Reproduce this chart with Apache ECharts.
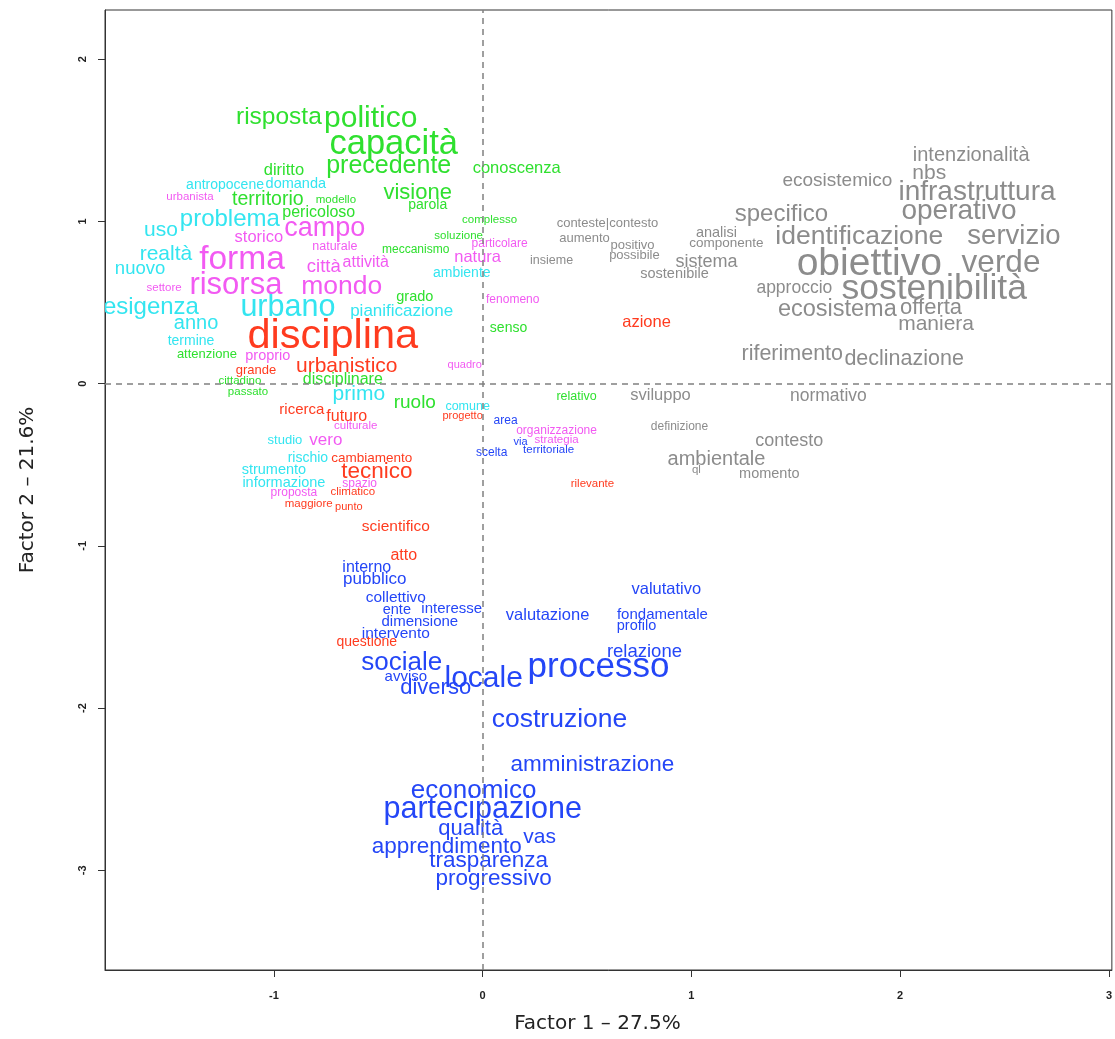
<!DOCTYPE html>
<html>
<head>
<meta charset="utf-8">
<script src="https://cdn.jsdelivr.net/npm/echarts@6/dist/echarts.min.js"></script>
<style>
html,body{margin:0;padding:0;background:#fff;}
#chart{width:1115px;height:1039px;}
</style>
</head>
<body>
<div id="chart"></div>
<script>
// Word map: [word, Factor 1 score, Factor 2 score, relative size (cex)]
const greenWords = [
  ['risposta',-0.976,1.651,2.45],['politico',-0.536,1.645,3.0],['capacità',-0.426,1.491,3.45],
  ['precedente',-0.450,1.349,2.5],['conoscenza',0.163,1.331,1.65],['diritto',-0.952,1.319,1.65],
  ['territorio',-1.029,1.140,1.95],['modello',-0.703,1.140,1.15],['visione',-0.311,1.183,2.2],
  ['parola',-0.263,1.109,1.4],['pericoloso',-0.785,1.060,1.6],['complesso',0.033,1.017,1.15],
  ['soluzione',-0.115,0.913,1.15],['meccanismo',-0.321,0.833,1.2],['grado',-0.325,0.538,1.45],
  ['senso',0.124,0.347,1.4],['attenzione',-1.321,0.187,1.3],['cittadino',-1.163,0.021,1.15],
  ['passato',-1.124,-0.047,1.15],['disciplinare',-0.670,0.033,1.6],['ruolo',-0.325,-0.108,1.9],
  ['relativo',0.450,-0.077,1.25]
];
const cyanWords = [
  ['antropocene',-1.234,1.232,1.4],['domanda',-0.895,1.239,1.45],['problema',-1.211,1.023,2.4],
  ['uso',-1.541,0.956,2.1],['realtà',-1.517,0.808,2.1],['nuovo',-1.641,0.716,1.85],
  ['esigenza',-1.589,0.482,2.4],['urbano',-0.933,0.482,3.05],['anno',-1.373,0.378,2.0],
  ['termine',-1.397,0.267,1.4],['pianificazione',-0.388,0.451,1.7],['ambiente',-0.100,0.685,1.4],
  ['primo',-0.593,-0.059,2.1],['comune',-0.072,-0.133,1.25],['studio',-0.947,-0.342,1.3],
  ['rischio',-0.837,-0.453,1.4],['strumento',-1.000,-0.526,1.45],['informazione',-0.952,-0.606,1.45]
];
const magentaWords = [
  ['urbanista',-1.402,1.159,1.15],['campo',-0.756,0.968,2.7],['storico',-1.072,0.907,1.65],
  ['forma',-1.153,0.778,3.35],['naturale',-0.708,0.851,1.25],['particolare',0.081,0.870,1.2],
  ['natura',-0.024,0.784,1.65],['città',-0.761,0.728,1.85],['attività',-0.560,0.753,1.6],
  ['risorsa',-1.182,0.617,3.1],['mondo',-0.675,0.611,2.65],['settore',-1.526,0.593,1.15],
  ['fenomeno',0.144,0.525,1.2],['proprio',-1.029,0.175,1.45],['quadro',-0.086,0.119,1.1],
  ['culturale',-0.608,-0.256,1.15],['vero',-0.751,-0.342,1.7],['organizzazione',0.354,-0.287,1.2],
  ['strategia',0.354,-0.342,1.15],['spazio',-0.589,-0.613,1.2],['proposta',-0.904,-0.668,1.2]
];
const redWords = [
  ['disciplina',-0.718,0.310,4.15],['azione',0.785,0.384,1.65],['urbanistico',-0.651,0.119,2.1],
  ['grande',-1.086,0.089,1.3],['ricerca',-0.866,-0.157,1.5],['futuro',-0.651,-0.194,1.6],
  ['progetto',-0.096,-0.194,1.1],['cambiamento',-0.531,-0.453,1.35],['tecnico',-0.507,-0.533,2.25],
  ['climatico',-0.622,-0.662,1.15],['maggiore',-0.833,-0.736,1.15],['punto',-0.641,-0.754,1.1],
  ['rilevante',0.526,-0.613,1.15],['scientifico',-0.416,-0.877,1.55],['atto',-0.378,-1.055,1.6],
  ['questione',-0.555,-1.590,1.4]
];
const blueWords = [
  ['area',0.110,-0.224,1.2],['via',0.182,-0.354,1.1],['territoriale',0.316,-0.403,1.15],
  ['scelta',0.043,-0.422,1.2],['interno',-0.555,-1.129,1.6],['pubblico',-0.517,-1.197,1.7],
  ['collettivo',-0.416,-1.314,1.55],['ente',-0.411,-1.388,1.45],['interesse',-0.148,-1.381,1.5],
  ['dimensione',-0.301,-1.461,1.5],['intervento',-0.416,-1.535,1.55],['valutazione',0.311,-1.424,1.65],
  ['valutativo',0.880,-1.264,1.65],['fondamentale',0.861,-1.418,1.5],['profilo',0.737,-1.486,1.45],
  ['relazione',0.775,-1.646,1.85],['sociale',-0.388,-1.707,2.6],['avviso',-0.368,-1.799,1.5],
  ['locale',0.005,-1.806,3.0],['processo',0.555,-1.732,3.5],['diverso',-0.225,-1.867,2.2],
  ['costruzione',0.368,-2.058,2.65],['amministrazione',0.526,-2.340,2.25],['economico',-0.043,-2.500,2.6],
  ['partecipazione',0.000,-2.611,3.05],['qualità',-0.057,-2.734,2.2],['vas',0.273,-2.789,2.1],
  ['apprendimento',-0.172,-2.844,2.25],['trasparenza',0.029,-2.930,2.25],['progressivo',0.053,-3.041,2.25]
];
const grayWords = [
  ['intenzionalità',2.340,1.417,2.0],['nbs',2.139,1.306,2.1],['ecosistemico',1.699,1.257,1.9],
  ['infrastruttura',2.368,1.189,2.8],['specifico',1.431,1.054,2.4],['operativo',2.282,1.073,2.8],
  ['conteste|contesto',0.598,0.993,1.3],['aumento',0.488,0.900,1.3],['positivo',0.718,0.857,1.3],
  ['possibile',0.727,0.796,1.3],['insieme',0.330,0.765,1.25],['analisi',1.120,0.937,1.45],
  ['componente',1.167,0.870,1.35],['identificazione',1.804,0.919,2.65],['servizio',2.545,0.919,2.75],
  ['sistema',1.072,0.759,1.8],['sostenibile',0.919,0.679,1.45],['obiettivo',1.852,0.753,3.9],
  ['verde',2.483,0.753,3.15],['approccio',1.493,0.599,1.75],['sostenibilità',2.163,0.599,3.55],
  ['ecosistema',1.699,0.470,2.35],['offerta',2.148,0.476,2.2],['maniera',2.172,0.378,2.1],
  ['riferimento',1.483,0.193,2.15],['declinazione',2.019,0.162,2.15],['sviluppo',0.852,-0.065,1.65],
  ['normativo',1.656,-0.071,1.75],['definizione',0.943,-0.262,1.2],['contesto',1.469,-0.348,1.8],
  ['ambientale',1.120,-0.459,2.0],['ql',1.024,-0.526,1.15],['momento',1.373,-0.551,1.45]
];
const xTicks = [-1, 0, 1, 2, 3];
const yTicks = [-3, -2, -1, 0, 1, 2];
const xTitle = 'Factor 1 – 27.5%';
const yTitle = 'Factor 2 – 21.6%';

const BASE_PX = 10;
const WORD_FONT = '"Liberation Sans", Arial, sans-serif';

function wordSeries(words, color) {
  return {
    type: 'custom',
    clip: true,
    silent: true,
    data: words.map(w => [w[1], w[2]]),
    encode: { x: 0, y: 1 },
    renderItem: function (params, api) {
      const w = words[params.dataIndex];
      const p = api.coord([w[1], w[2]]);
      const fs = w[3] * BASE_PX;
      return {
        type: 'text',
        x: p[0], y: p[1] + fs * 0.07,
        style: {
          text: w[0],
          fill: color,
          fontSize: fs,
          fontFamily: WORD_FONT,
          align: 'center',
          verticalAlign: 'middle'
        }
      };
    }
  };
}

const chart = echarts.init(document.getElementById('chart'), null, { renderer: 'canvas' });
const series = [
  wordSeries(grayWords, '#8c8c8c'),
  wordSeries(greenWords, '#2fe02f'),
  wordSeries(cyanWords, '#33e5f0'),
  wordSeries(magentaWords, '#f25af2'),
  wordSeries(redWords, '#ff3b1f'),
  wordSeries(blueWords, '#2446f7')
];
series.push({
  type: 'scatter', data: [], silent: true,
  markLine: {
    silent: true, symbol: 'none', label: { show: false },
    lineStyle: { color: '#808080', type: [6, 5], width: 1.5 },
    data: [{ xAxis: 0 }, { yAxis: 0 }]
  }
});

chart.setOption({
  animation: false,
  backgroundColor: '#ffffff',
  grid: { left: 105, top: 10, right: 2, bottom: 67, show: true, borderColor: '#333', borderWidth: 1, backgroundColor: 'transparent' },
  xAxis: {
    type: 'value', min: -1.809, max: 3.014,
    name: xTitle, nameLocation: 'middle', nameGap: 44,
    nameTextStyle: { fontFamily: '"DejaVu Sans", Verdana, sans-serif', fontSize: 20, color: '#222', padding: [0, 22, 0, 0] },
    axisLine: { show: true, onZero: false, lineStyle: { color: '#333', width: 1 } },
    axisTick: { show: true, inside: false, length: 7, customValues: xTicks, lineStyle: { color: '#333' } },
    axisLabel: { customValues: xTicks, margin: 20, fontSize: 11, fontWeight: 'bold', color: '#222', fontFamily: '"Liberation Sans", Arial, sans-serif' },
    splitLine: { show: false }
  },
  yAxis: {
    type: 'value', min: -3.614, max: 2.303,
    name: yTitle, nameLocation: 'middle', nameGap: 67, nameRotate: 90,
    nameTextStyle: { fontFamily: '"DejaVu Sans", Verdana, sans-serif', fontSize: 20, color: '#222' },
    axisLine: { show: true, onZero: false, lineStyle: { color: '#333', width: 1 } },
    axisTick: { show: true, inside: false, length: 7, customValues: yTicks, lineStyle: { color: '#333' } },
    axisLabel: { customValues: yTicks, rotate: 90, margin: 17, fontSize: 11, fontWeight: 'bold', color: '#222', fontFamily: '"Liberation Sans", Arial, sans-serif' },
    splitLine: { show: false }
  },
  series: series
});
</script>
</body>
</html>
